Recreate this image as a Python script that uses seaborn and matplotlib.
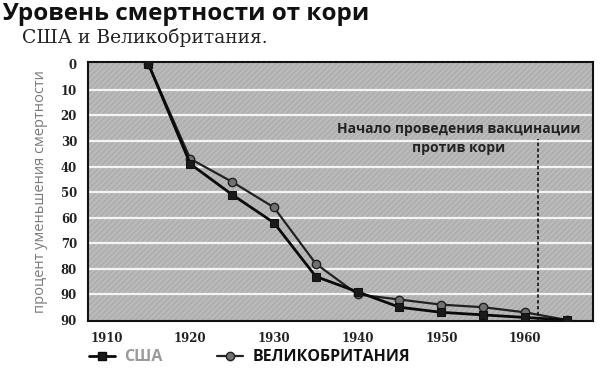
import matplotlib
matplotlib.use("Agg")
import matplotlib.pyplot as plt
import seaborn as sns
import pandas as pd
from matplotlib.lines import Line2D

years = [1915, 1920, 1925, 1930, 1935, 1940, 1945, 1950, 1955, 1960, 1965]
usa = [0, 39, 51, 62, 83, 89, 95, 97, 98, 99, 100]
uk = [0, 37, 46, 56, 78, 90, 92, 94, 95, 97, 100]
series_names = ["США", "ВЕЛИКОБРИТАНИЯ"]
y_ticks = [0, 10, 20, 30, 40, 50, 60, 70, 80, 90, 100]
y_tick_labels = ["0", "10", "20", "30", "40", "50", "60", "70", "80", "90", "90"]
x_ticks = [1910, 1920, 1930, 1940, 1950, 1960]
x_tick_labels = ["1910", "1920", "1930", "1940", "1950", "1960"]
vaccine_year = 1961.5

df = pd.DataFrame({
    "year": years * 2,
    "value": usa + uk,
    "country": [series_names[0]] * len(years) + [series_names[1]] * len(years),
})

sns.set_theme(style="white")
plt.rcParams["font.family"] = ["Open Sans", "DejaVu Sans"]

fig = plt.figure(figsize=(6, 3.72), dpi=100)
ax = fig.add_axes([0.147, 0.137, 0.841, 0.696])
ax.set_facecolor("#bababa")
ax.patch.set_hatch("//////")
ax.patch.set_edgecolor("#acacac")
ax.patch.set_linewidth(0)

for t in y_ticks[1:-1]:
    ax.axhline(t, color="#f4f4f4", lw=1.6, zorder=1)

sns.lineplot(data=df[df.country == series_names[1]], x="year", y="value", ax=ax,
             color="#222222", lw=1.6, marker="o", markersize=6,
             markerfacecolor="#707070", markeredgecolor="#222222", markeredgewidth=1,
             zorder=3, legend=False)
sns.lineplot(data=df[df.country == series_names[0]], x="year", y="value", ax=ax,
             color="#0a0a0a", lw=2.0, marker="s", markersize=6,
             markerfacecolor="#1a1a1a", markeredgecolor="#111111",
             zorder=4, legend=False)

ax.axvline(vaccine_year, ymin=0, ymax=0.705, color="#111111", lw=1.2, ls=(0, (2, 1.5)), zorder=5)
ax.text(1952.1, 25.5, "Начало проведения вакцинации", ha="center", va="center",
        fontsize=10, fontweight="bold", color="#222222")
ax.text(1952.1, 32.7, "против кори", ha="center", va="center",
        fontsize=10, fontweight="bold", color="#222222")

ax.set_xlim(1907.8, 1968.1)
ax.set_ylim(100.4, -0.8)
ax.set_yticks(y_ticks)
ax.set_yticklabels(y_tick_labels, fontsize=8.5, fontweight="bold", family="DejaVu Serif")
ax.set_xticks(x_ticks)
ax.set_xticklabels(x_tick_labels, fontsize=8.5, fontweight="bold", family="DejaVu Serif")
ax.tick_params(axis="both", length=0, pad=8, colors="#222222")
ax.set_xlabel("")
ax.set_ylabel("процент уменьшения смертности", fontsize=10.5, color="#7a7a7a", labelpad=9)
for s in ax.spines.values():
    s.set_color("#111111")
    s.set_linewidth(1.5)

fig.text(0.003, 0.962, "Уровень смертности от кори", fontsize=17.5, fontweight="bold",
         color="#111111", ha="left", va="center")
fig.text(0.037, 0.898, "США и Великобритания.", fontsize=13.5, family="DejaVu Serif",
         color="#222222", ha="left", va="center")

h1 = Line2D([0], [0], color="#0a0a0a", lw=2, marker="s", markersize=6, markerfacecolor="#1a1a1a")
h2 = Line2D([0], [0], color="#222222", lw=1.6, marker="o", markersize=6,
            markerfacecolor="#707070", markeredgecolor="#222222")
leg = fig.legend([h1, h2], series_names, loc="center left", bbox_to_anchor=(0.125, 0.04),
                 ncol=2, frameon=False, columnspacing=3.4, handlelength=1.6, handletextpad=0.6,
                 prop={"size": 11.5, "weight": "bold"})
leg.get_texts()[0].set_color("#9a9a9a")
leg.get_texts()[1].set_color("#111111")

fig.savefig("out.png", dpi=100)
